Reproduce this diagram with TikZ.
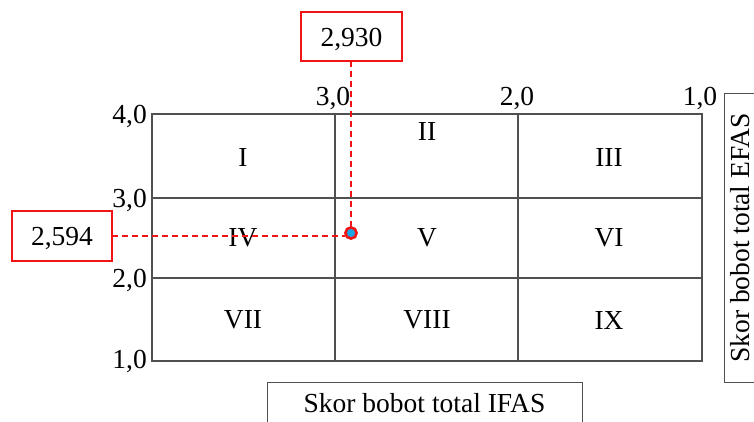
\documentclass[tikz,border=0pt]{standalone}
\usepackage{fontspec}
\setmainfont{Liberation Serif}
\definecolor{gridc}{HTML}{505050}
\definecolor{redc}{HTML}{F01414}
\definecolor{bluec}{HTML}{1CA6E6}
\begin{document}
\begin{tikzpicture}[x=1pt,y=-1pt,
  lbl/.style={font=\fontsize{27.5}{30}\selectfont, inner sep=0pt},
  gridline/.style={draw=gridc, line width=1.4pt},
  redbox/.style={draw=redc, line width=2.6pt, fill=white},
  axisbox/.style={draw=gridc, line width=1pt},
  guide/.style={draw=redc, line width=1.2pt, dash pattern=on 6pt off 4pt}]
\useasboundingbox (0,0) rectangle (754,421);
\clip (0,0) rectangle (754,421);
% grid
\draw[gridline] (152,114) rectangle (702,361);
\draw[gridline] (335,114) -- (335,361);
\draw[gridline] (518,114) -- (518,361);
\draw[gridline] (152,198) -- (702,198);
\draw[gridline] (152,278) -- (702,278);
% cell labels
\node[lbl] (c1) at (243,157) {I};
\node[lbl] (c2) at (427,131) {II};
\node[lbl] (c3) at (609,157) {III};
\node[lbl] (c4) at (243,238) {IV};
\node[lbl] (c5) at (427,238) {V};
\node[lbl] (c6) at (609,238) {VI};
\node[lbl] (c7) at (243,320) {VII};
\node[lbl] (c8) at (427,320) {VIII};
\node[lbl] (c9) at (609,320) {IX};
% left axis labels
\node[lbl, anchor=base east] (l4) at (147,123) {4,0};
\node[lbl, anchor=base east] (l3) at (147,207) {3,0};
\node[lbl, anchor=base east] (l2) at (147,287) {2,0};
\node[lbl, anchor=base east] (l1) at (147,368) {1,0};
% top axis labels
\node[lbl, anchor=base] (t3) at (333,105) {3,0};
\node[lbl, anchor=base] (t2) at (517,105) {2,0};
\node[lbl, anchor=base] (t1) at (700,105) {1,0};
% point and guides
\coordinate (p) at (351,233);
\draw[redbox] (301,12) rectangle (402,61);
\node[lbl, anchor=base] (vx) at (351.5,46) {2,930};
\coordinate (vxb) at (351,61);
\draw[redbox] (12,211) rectangle (112,261);
\node[lbl, anchor=base] (vy) at (62,245) {2,594};
\coordinate (vyr) at (112,236);
\coordinate (py) at (345,236);
\draw[guide] (vxb) -- (p);
\draw[guide] (vyr) -- (py);
\fill[bluec, draw=redc, line width=2.6pt] (p) circle (5.6);
% axis title boxes
\draw[axisbox] (267,382) rectangle (582,430);
\node[lbl] (ifas) at (424.5,403) {Skor bobot total IFAS};
\draw[axisbox] (724,93) rectangle (770,382);
\node[lbl, rotate=90] (efas) at (740,238) {Skor bobot total EFAS};
\end{tikzpicture}
\end{document}
